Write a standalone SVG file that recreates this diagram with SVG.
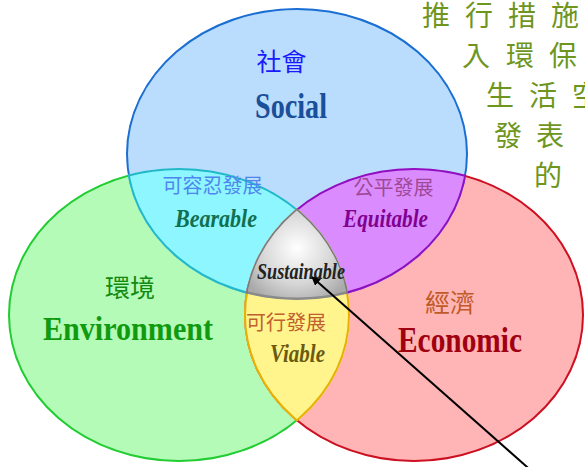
<svg xmlns="http://www.w3.org/2000/svg" width="585" height="467" viewBox="0 0 585 467">
<defs>
<style>
.cjk{font-family:"Noto Sans CJK TC","Noto Sans CJK SC",sans-serif;text-anchor:middle}
.en{font-family:"Liberation Serif",serif;font-weight:bold;text-anchor:middle}
.it{font-style:italic}
.side{font-family:"Noto Sans CJK TC","Noto Sans CJK SC",sans-serif;font-size:28px;fill:#6e961e}
</style>
<clipPath id="cB"><ellipse cx="297" cy="154" rx="171" ry="146"/></clipPath>
<clipPath id="cG"><ellipse cx="179" cy="315" rx="171" ry="147"/></clipPath>
<clipPath id="cR"><ellipse cx="414" cy="315" rx="170" ry="147"/></clipPath>
<radialGradient id="gray" cx="297" cy="248" r="60" gradientUnits="userSpaceOnUse">
<stop offset="0" stop-color="#ffffff"/>
<stop offset="0.6" stop-color="#d6d6d6"/>
<stop offset="1" stop-color="#a9a9a9"/>
</radialGradient>
<marker id="ah" viewBox="0 0 10 10" refX="9" refY="5" markerWidth="9" markerHeight="9" markerUnits="userSpaceOnUse" orient="auto">
<path d="M0,0 L10,5 L0,10 z" fill="#000"/>
</marker>
</defs>
<rect width="585" height="467" fill="#ffffff"/>

<g id="environment">
<ellipse cx="179" cy="315" rx="171" ry="147" fill="#b5fbb8" stroke="#22cc33" stroke-width="4" clip-path="url(#cG)"/>
</g>
<g id="economic">
<ellipse cx="414" cy="315" rx="170" ry="147" fill="#ffb5b5" stroke="#cc1122" stroke-width="4" clip-path="url(#cR)"/>
</g>
<g id="social">
<ellipse cx="297" cy="154" rx="171" ry="146" fill="#badcfd" stroke="#1c6fd2" stroke-width="4" clip-path="url(#cB)"/>
</g>
<g id="bearable">
<g clip-path="url(#cB)"><g clip-path="url(#cG)">
<ellipse cx="179" cy="315" rx="171" ry="147" fill="#8ef6ff" stroke="#22b8c8" stroke-width="4"/>
<ellipse cx="297" cy="154" rx="171" ry="146" fill="none" stroke="#22b8c8" stroke-width="4"/>
</g></g>
</g>
<g id="equitable">
<g clip-path="url(#cB)"><g clip-path="url(#cR)">
<ellipse cx="414" cy="315" rx="170" ry="147" fill="#da8cff" stroke="#9010c0" stroke-width="4"/>
<ellipse cx="297" cy="154" rx="171" ry="146" fill="none" stroke="#9010c0" stroke-width="4"/>
</g></g>
</g>
<g id="viable">
<g clip-path="url(#cG)"><g clip-path="url(#cR)">
<ellipse cx="414" cy="315" rx="170" ry="147" fill="#fff58c" stroke="#e8b000" stroke-width="4"/>
<ellipse cx="179" cy="315" rx="171" ry="147" fill="none" stroke="#e8b000" stroke-width="4"/>
</g></g>
</g>
<g id="sustainable">
<g clip-path="url(#cB)"><g clip-path="url(#cG)"><g clip-path="url(#cR)">
<ellipse cx="297" cy="154" rx="171" ry="146" fill="url(#gray)" stroke="#8a8a8a" stroke-width="5"/>
<ellipse cx="179" cy="315" rx="171" ry="147" fill="none" stroke="#7a7a7a" stroke-width="3"/>
<ellipse cx="414" cy="315" rx="170" ry="147" fill="none" stroke="#7a7a7a" stroke-width="3"/>
</g></g></g>
</g>

<g id="labels">
<text class="cjk" x="281.5" y="71" font-size="25" fill="#1a1aff">社會</text>
<text class="en" x="291" y="118" font-size="36" fill="#1a4f9a" textLength="72" lengthAdjust="spacingAndGlyphs">Social</text>
<text class="cjk" x="212.5" y="193" font-size="20" fill="#4f86ee">可容忍發展</text>
<text class="en it" x="216" y="227" font-size="25" fill="#107050" textLength="82" lengthAdjust="spacingAndGlyphs">Bearable</text>
<text class="cjk" x="393.5" y="195" font-size="20" fill="#a04898">公平發展</text>
<text class="en it" x="385.5" y="227" font-size="25" fill="#800090" textLength="85" lengthAdjust="spacingAndGlyphs">Equitable</text>
<text class="en it" x="301" y="279" font-size="23" fill="#222222" textLength="88" lengthAdjust="spacingAndGlyphs">Sustainable</text>
<text class="cjk" x="130" y="297" font-size="25" fill="#108a10">環境</text>
<text class="en" x="128" y="340" font-size="33" fill="#109a10" textLength="170" lengthAdjust="spacingAndGlyphs">Environment</text>
<text class="cjk" x="450" y="312" font-size="25" fill="#c05a28">經濟</text>
<text class="en" x="460" y="352" font-size="36" fill="#a00010" textLength="124" lengthAdjust="spacingAndGlyphs">Economic</text>
<text class="cjk" x="286" y="330" font-size="20" fill="#c06030">可行發展</text>
<text class="en it" x="297.5" y="362" font-size="25" fill="#6a5a10" textLength="55" lengthAdjust="spacingAndGlyphs">Viable</text>
</g>

<g id="side-text">
<text class="side" x="422 465 508 551" y="26">推行措施</text>
<text class="side" x="462 506 549" y="66">入環保</text>
<text class="side" x="486 529 572" y="106">生活空</text>
<text class="side" x="494 536" y="146">發表</text>
<text class="side" x="534" y="186">的</text>
</g>

<g id="connectors">
<line x1="535" y1="474" x2="312" y2="277" stroke="#000" stroke-width="2" marker-end="url(#ah)"/>
</g>
</svg>
